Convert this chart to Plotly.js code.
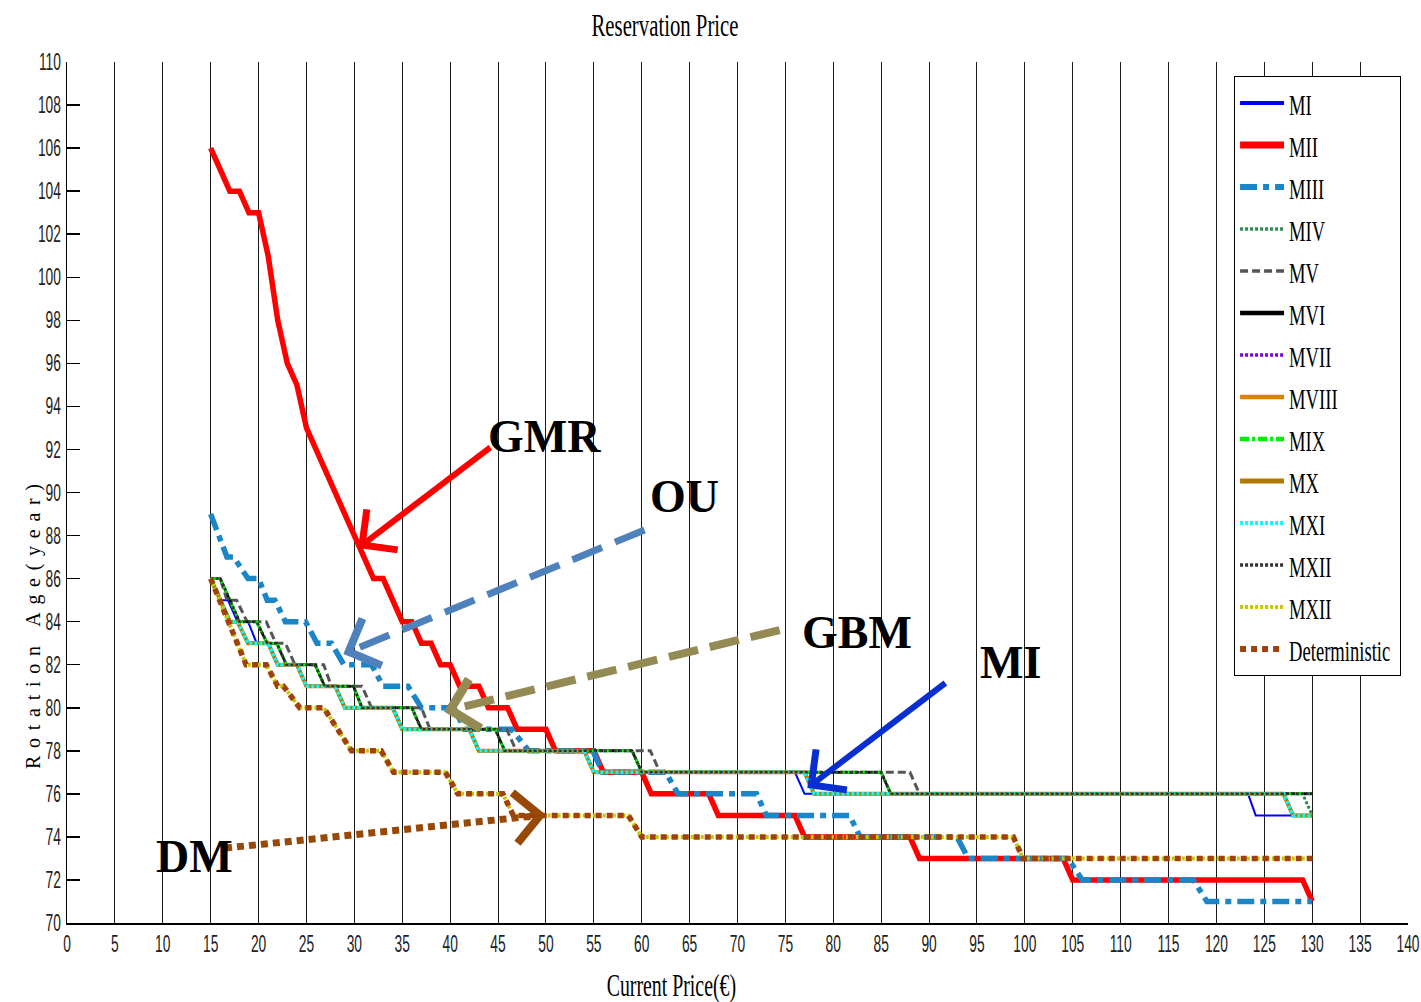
<!DOCTYPE html>
<html>
<head>
<meta charset="utf-8">
<script src="https://cdn.plot.ly/plotly-3.0.1.min.js"></script>
<style>
  html, body { margin: 0; padding: 0; background: #ffffff; }
  #chart { width: 1421px; height: 1002px; }
</style>
</head>
<body>
<div id="chart"></div>
<script>
// ---- Reservation-price curves: rotation age (years) against current price (€) ----
// Each curve is a list of break points; the plot joins them with straight segments.

const miX   = [15, 16, 16.8, 17.8, 18.9, 19.8, 21, 22, 24, 25, 28, 29, 34, 35, 42, 43, 54, 55, 76, 77, 123.3, 124.1, 130];
const miY   = [86, 85, 85,   84,   84,   83,   83, 82, 82, 81, 81, 80, 80, 79, 79, 78, 78, 77, 77, 76, 76,    75,    75];

const miiX  = [15, 17, 18, 19, 20, 21, 22, 23, 24, 25, 31, 32, 33, 35, 36, 37, 38, 39, 40, 41, 43, 44, 46, 47, 50, 51, 55, 56, 60, 61, 67, 68, 76, 77, 88, 89, 104, 105, 129, 130];
const miiY  = [106, 104, 104, 103, 103, 101, 98, 96, 95, 93, 87, 86, 86, 84, 84, 83, 83, 82, 82, 81, 81, 80, 80, 79, 79, 78, 78, 77, 77, 76, 76, 75, 75, 74, 74, 73, 73, 72, 72, 71];

const miiiX = [15, 16.7, 17.4, 18.9, 20, 20.9, 21.7, 22.8, 24.9, 26.1, 27.6, 28.9, 31.8, 33, 35.6, 37, 40.4, 41.5, 46.4, 48.2, 54.9, 55.9, 62.5, 63.8, 72, 73, 81.7, 82.8, 92.9, 94.1, 104.5, 106, 117.6, 119, 130];
const miiiY = [89, 87, 87, 86, 86, 85, 85, 84, 84, 83, 83, 82, 82, 81, 81, 80, 80, 79, 79, 78, 78, 77, 77, 76, 76, 75, 75, 74, 74, 73, 73, 72, 72, 71, 71];

// upper GBM-type step curve (MVI, MIX, MXII)
const upperX = [15, 16, 18, 19.8, 20.9, 21.9, 22.9, 25.9, 26.9, 29.9, 30.8, 36, 37, 44.7, 45.7, 59, 60, 85, 86, 130];
const upperY = [86, 86, 84, 84,   83,   83,   82,   82,   81,   81,   80,   80, 79, 79,   78,   78, 77, 77, 76, 76];

const mivX  = [15, 16, 18, 19.8, 20.9, 21.9, 22.9, 25.9, 26.9, 29.9, 30.8, 36, 37, 44.7, 45.7, 59, 60, 85, 86, 129, 130];
const mivY  = [86, 86, 84, 84,   83,   83,   82,   82,   81,   81,   80,   80, 79, 79,   78,   78, 77, 77, 76, 76,  75];

const mvX   = [15, 16, 16.7, 17.7, 18.8, 20.8, 21.8, 22.8, 23.8, 26.8, 27.6, 30.8, 31.8, 37, 37.9, 45.9, 46.9, 60.9, 61.9, 88, 89, 130];
const mvY   = [86, 86, 85,   85,   84,   84,   83,   83,   82,   82,   81,   81,   80,   80, 79,   79,   78,   78,   77,   77, 76, 76];

// lower step curve (MVII, MVIII, MX, MXI)
const lowerX = [15, 17, 17.8, 18.9, 21, 22, 24, 25, 28, 29, 34, 35, 42, 43, 54, 55, 77, 78, 127, 128, 130];
const lowerY = [86, 84, 84,   83,   83, 82, 82, 81, 81, 80, 80, 79, 79, 78, 78, 77, 77, 76, 76,  75,  75];

// deterministic model (also the second MXII)
const detX  = [15, 18.7, 20.8, 22, 22.6, 24.3, 26.8, 29.7, 32.8, 34.1, 39.5, 40.8, 45.5, 46.6, 58.6, 60, 98.8, 99.8, 130];
const detY  = [86, 82,   82,   81, 81,   80,   80,   78,   78,   77,   77,   76,   76,   75,   75,   74, 74,   73,   73];

const seriesNames = ['MI', 'MII', 'MIII', 'MIV', 'MV', 'MVI', 'MVII', 'MVIII', 'MIX', 'MX', 'MXI', 'MXII', 'MXII', 'Deterministic'];

const xTicks = [0, 5, 10, 15, 20, 25, 30, 35, 40, 45, 50, 55, 60, 65, 70, 75, 80, 85, 90, 95, 100, 105, 110, 115, 120, 125, 130, 135, 140];
const yTicks = [70, 72, 74, 76, 78, 80, 82, 84, 86, 88, 90, 92, 94, 96, 98, 100, 102, 104, 106, 108, 110];

// ---- traces ----
function curve(x, y, name, color, width, dash) {
  return { x: x, y: y, name: name, type: 'scatter', mode: 'lines',
           line: { color: color, width: width, dash: dash || 'solid' }, hoverinfo: 'x+y+name' };
}

const data = [
  curve(miX,    miY,    seriesNames[0],  '#0000ff', 2),
  curve(miiX,   miiY,   seriesNames[1],  '#ff0000', 5.5),
  curve(miiiX,  miiiY,  seriesNames[2],  '#1a86c8', 5.5, '17px,6px,6px,6px'),
  curve(mivX,   mivY,   seriesNames[3],  '#2e8b57', 3, '3px,2px'),
  curve(mvX,    mvY,    seriesNames[4],  '#555555', 3, '8px,4px'),
  curve(upperX, upperY, seriesNames[5],  '#000000', 2.5),
  curve(lowerX, lowerY, seriesNames[6],  '#7a00e6', 3, '3px,2px'),
  curve(lowerX, lowerY, seriesNames[7],  '#e08000', 3.5),
  curve(upperX, upperY, seriesNames[8],  '#00ee00', 3, '9px,3px,3px,3px'),
  curve(lowerX, lowerY, seriesNames[9],  '#b07a00', 4),
  curve(lowerX, lowerY, seriesNames[10], '#00ffff', 3.5, '3px,2px'),
  curve(upperX, upperY, seriesNames[11], '#333333', 2.5, '3px,2px'),
  curve(detX,   detY,   seriesNames[12], '#c8c800', 4, '3px,2px'),
  curve(detX,   detY,   seriesNames[13], '#a0400a', 5.5, '6px,5px')
];

// stroke widths of the legend samples
const legendSampleWidths = [4, 7, 6, 3.5, 3.5, 4.5, 3.5, 4.5, 4.5, 5, 4, 3.5, 4, 6];

// ---- plot-area geometry (fixed margins), used to build the arrow heads ----
const plotLeft = 67, plotTop = 62, plotW = 1341, plotH = 861;
const xMin = 0, xMax = 140, yMin = 70, yMax = 110;

function toPx(x, y) {
  return [plotLeft + (x - xMin) / (xMax - xMin) * plotW, plotTop + (yMax - y) / (yMax - yMin) * plotH];
}
function toData(px, py) {
  return [xMin + (px - plotLeft) / plotW * (xMax - xMin), yMax - (py - plotTop) / plotH * (yMax - yMin)];
}

// open "V" arrow head at the tip, opening back toward the tail
function chevron(tailX, tailY, tipX, tipY, color, width, len) {
  const t = toPx(tipX, tipY), a = toPx(tailX, tailY);
  let ux = a[0] - t[0], uy = a[1] - t[1];
  const n = Math.hypot(ux, uy); ux /= n; uy /= n;
  const c = Math.cos(Math.PI / 4), s = Math.sin(Math.PI / 4);
  const w1 = toData(t[0] + len * (ux * c - uy * s), t[1] + len * (ux * s + uy * c));
  const w2 = toData(t[0] + len * (ux * c + uy * s), t[1] + len * (-ux * s + uy * c));
  return { type: 'path', xref: 'x', yref: 'y', layer: 'above',
           path: 'M' + w1[0] + ',' + w1[1] + ' L' + tipX + ',' + tipY + ' L' + w2[0] + ',' + w2[1],
           line: { color: color, width: width } };
}
function shaft(tailX, tailY, tipX, tipY, color, width, dash) {
  return { type: 'line', xref: 'x', yref: 'y', layer: 'above', x0: tailX, y0: tailY, x1: tipX, y1: tipY,
           line: { color: color, width: width, dash: dash || 'solid' } };
}

// callouts: tail and tip of each arrow, with its style
const callouts = [
  { tail: [44.2, 92.1],  tip: [30.8, 87.56], color: '#ff0000', width: 6, dash: 'solid' },
  { tail: [60.3, 88.26], tip: [29.4, 82.6],  color: '#4f81bd', width: 7, dash: '32px,14px' },
  { tail: [74.4, 83.61], tip: [40.0, 79.9],  color: '#948a54', width: 8, dash: '30px,12px' },
  { tail: [91.7, 81.15], tip: [77.7, 76.41], color: '#0a2fd0', width: 6, dash: 'solid' },
  { tail: [16.5, 73.48], tip: [49.4, 75.0],  color: '#984807', width: 7, dash: '7px,5px' }
];

const shapes = [];
callouts.forEach(function (c) {
  shapes.push(shaft(c.tail[0], c.tail[1], c.tip[0], c.tip[1], c.color, c.width, c.dash));
  shapes.push(chevron(c.tail[0], c.tail[1], c.tip[0], c.tip[1], c.color, c.width + 1, 36));
});

const boldSerif = { family: 'Liberation Serif, Times New Roman, serif', size: 46, color: '#000000', weight: 700 };
function label(text, x, y) {
  return { text: text, x: x, y: y, xref: 'x', yref: 'y', showarrow: false, font: boldSerif };
}

const annotations = [
  label('GMR', 49.8, 92.6),
  label('OU', 64.5, 89.8),
  label('GBM', 82.5, 83.5),
  label('MI', 98.5, 82.1),
  label('DM', 13.3, 73.1),
  { text: 'Rotation Age(year)', textangle: -90, xref: 'paper', yref: 'paper', x: -0.035, y: 0.344,
    showarrow: false, font: { family: 'Liberation Serif, Times New Roman, serif', size: 20, color: '#000000' } },
  { text: 'Current Price(€)', xref: 'paper', yref: 'paper', x: 0.451, y: -0.072, yanchor: 'middle',
    showarrow: false, font: { family: 'Liberation Serif, Times New Roman, serif', size: 32, color: '#000000' } }
];

const tickFont = { family: 'Liberation Sans, Arial, sans-serif', size: 23, color: '#222222' };

const layout = {
  width: 1421, height: 1002,
  margin: { l: plotLeft, r: 1421 - plotLeft - plotW, t: plotTop, b: 1002 - plotTop - plotH, autoexpand: false },
  paper_bgcolor: '#ffffff', plot_bgcolor: '#ffffff',
  title: { text: 'Reservation Price', x: 0.468, xref: 'container', y: 0.975, yref: 'container',
           xanchor: 'center', yanchor: 'middle',
           font: { family: 'Liberation Serif, Times New Roman, serif', size: 31, color: '#000000' } },
  xaxis: { range: [xMin, xMax], tickvals: xTicks, ticktext: xTicks.map(String), ticks: '',
           ticklabeloverflow: 'allow',
           showgrid: true, gridcolor: '#1a1a1a', gridwidth: 1, zeroline: false,
           showline: true, linecolor: '#000000', linewidth: 1.5, tickfont: tickFont },
  yaxis: { range: [yMin, yMax], tickvals: yTicks, ticktext: yTicks.map(String),
           ticks: 'inside', ticklen: 13, tickwidth: 1.5, tickcolor: '#000000',
           showgrid: false, zeroline: false, showline: true, linecolor: '#000000', linewidth: 1.5,
           tickfont: tickFont },
  legend: { x: 0.8703, y: 0.9837, xanchor: 'left', yanchor: 'top', bgcolor: '#ffffff',
            bordercolor: '#000000', borderwidth: 1, itemwidth: 44, traceorder: 'normal',
            font: { family: 'Liberation Serif, Times New Roman, serif', size: 30, color: '#000000' } },
  showlegend: true,
  annotations: annotations,
  shapes: shapes
};

// Condense text horizontally about its anchor point (narrow typeface look).
function squeeze(nodes, factor) {
  nodes.forEach(function (t) {
    const x0 = parseFloat(t.getAttribute('x')) || 0;
    const prev = t.getAttribute('transform') || '';
    t.setAttribute('transform', prev + ' translate(' + x0 + ',0) scale(' + factor + ',1) translate(' + (-x0) + ',0)');
  });
}

Plotly.newPlot('chart', data, layout, { displayModeBar: false, staticPlot: true }).then(function (gd) {
  squeeze(gd.querySelectorAll('.xtick text, .ytick text'), 0.6);
  squeeze(gd.querySelectorAll('.gtitle'), 0.67);
  squeeze(gd.querySelectorAll('.legendtext'), 0.62);
  gd.querySelectorAll('.annotation-text').forEach(function (t) {
    const s = t.textContent;
    if (s === 'Current Price(€)') {
      squeeze([t], 0.62);
    } else if (s === 'Rotation Age(year)') {
      t.setAttribute('textLength', '285');
      t.setAttribute('lengthAdjust', 'spacing');
    }
  });
  gd.querySelectorAll('.legend .traces').forEach(function (g, i) {
    const w = legendSampleWidths[i];
    if (w) {
      g.querySelectorAll('.legendlines path').forEach(function (p) { p.style.strokeWidth = w + 'px'; });
    }
  });
  const bg = gd.querySelector('.legend .bg');
  if (bg) { bg.setAttribute('width', '166'); }
});
</script>
</body>
</html>
